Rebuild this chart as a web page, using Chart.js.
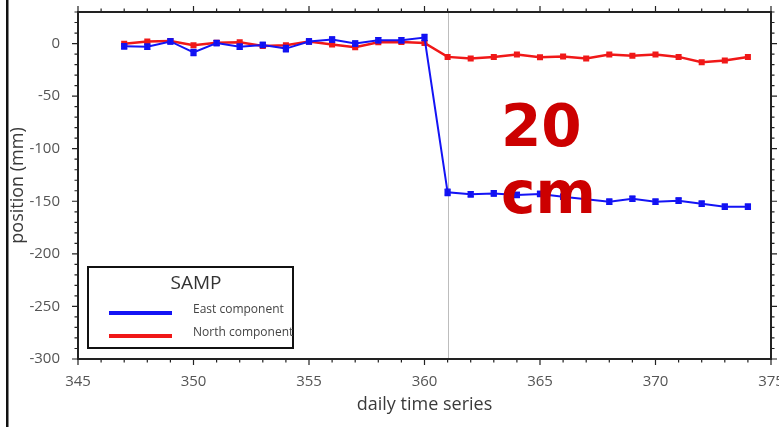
<!DOCTYPE html>
<html>
<head>
<meta charset="utf-8">
<script src="https://cdn.jsdelivr.net/npm/chart.js@4.4.1/dist/chart.umd.min.js"></script>
<style>
html, body { margin: 0; padding: 0; background: #fff; overflow: hidden; }
#wrap { position: relative; width: 800px; height: 427px; }
#note { position: absolute; left: 501px; top: 93px; font: bold 58px "DejaVu Sans"; line-height: 67px; color: #cc0000; }
</style>
</head>
<body>
<div id="wrap">
  <canvas id="myChart" width="800" height="427"></canvas>
  <div id="note">20<br>cm</div>
</div>
<script>
const days = [347, 348, 349, 350, 351, 352, 353, 354, 355, 356, 357, 358, 359, 360,
              361, 362, 363, 364, 365, 366, 367, 368, 369, 370, 371, 372, 373, 374];
const east = [-2.6, -3, 2, -8.5, 0.5, -3, -1.3, -4.8, 2, 3.8, 0, 3.2, 3.1, 5.7,
              -141.5, -143.4, -142.5, -144, -143, -145.7, -148, -150.4, -147.6, -150.4, -149.4, -152.3, -155.2, -155.2];
const north = [-0.3, 2, 2.5, -1.6, 0.8, 1.2, -2.3, -1.6, 2, -1, -3.5, 1.2, 1.5, 0.6,
               -12.7, -14.3, -12.7, -10.5, -13, -12.3, -14.3, -10.5, -11.7, -10.5, -12.7, -17.8, -16.2, -12.7];
const eastErr = [2.5, 2.5, 2.5, 3, 2.5, 2.5, 2.5, 3, 2.5, 2.5, 2.5, 2.5, 2.5, 3,
                 3, 2.5, 2.5, 2.5, 2.5, 2.5, 2.5, 2.5, 2.5, 2.5, 2.5, 2.5, 2.5, 2.5];
const xTicks = [345, 350, 355, 360, 365, 370, 375];
const yTicks = [-300, -250, -200, -150, -100, -50, 0];
const eventDay = 361;
const station = "SAMP";

const ctx = document.getElementById('myChart').getContext("2d");
const FONT = "Open Sans";

// vertical event line, error bars, frame with minor ticks, legend box
const extras = {
  id: 'extras',
  beforeDatasetsDraw(chart) {
    const c = chart.ctx, a = chart.chartArea;
    const px = chart.scales.x.getPixelForValue(eventDay);
    c.save();
    c.strokeStyle = '#bdbdbd';
    c.lineWidth = 1;
    c.beginPath();
    c.moveTo(Math.round(px) + 0.5, a.top);
    c.lineTo(Math.round(px) + 0.5, a.bottom);
    c.stroke();
    c.restore();
  },
  afterDatasetsDraw(chart) {
    const c = chart.ctx, x = chart.scales.x, y = chart.scales.y;
    c.save();
    c.strokeStyle = '#1010f0';
    c.lineWidth = 1.3;
    days.forEach((d, i) => {
      const px = x.getPixelForValue(d);
      const y1 = y.getPixelForValue(east[i] - eastErr[i]);
      const y2 = y.getPixelForValue(east[i] + eastErr[i]);
      c.beginPath();
      c.moveTo(px, y1); c.lineTo(px, y2);
      c.moveTo(px - 3, y1); c.lineTo(px + 3, y1);
      c.moveTo(px - 3, y2); c.lineTo(px + 3, y2);
      c.stroke();
    });
    c.restore();
  },
  afterDraw(chart) {
    const c = chart.ctx, a = chart.chartArea, x = chart.scales.x, y = chart.scales.y;
    c.save();
    c.strokeStyle = '#222';
    c.lineWidth = 1.2;
    c.beginPath();
    for (let v = 345; v <= 375; v++) {
      const px = x.getPixelForValue(v);
      const len = v % 5 === 0 ? 6 : 3.5;
      c.moveTo(px, a.bottom); c.lineTo(px, a.bottom + len);
      c.moveTo(px, a.top); c.lineTo(px, a.top - len);
    }
    for (let v = -300; v <= 30; v += 10) {
      const py = y.getPixelForValue(v);
      const len = v % 50 === 0 ? 6 : 3.5;
      c.moveTo(a.left, py); c.lineTo(a.left - len, py);
      c.moveTo(a.right, py); c.lineTo(a.right + len, py);
    }
    c.stroke();

    c.lineWidth = 2;
    c.strokeRect(a.left, a.top, a.right - a.left, a.bottom - a.top);

    // page border on the left
    c.fillStyle = '#111';
    c.fillRect(6, 0, 2.5, 427);

    // legend
    c.fillStyle = '#fff';
    c.fillRect(88, 267, 205, 81);
    c.strokeStyle = '#111';
    c.lineWidth = 2;
    c.strokeRect(88, 267, 205, 81);
    c.fillStyle = '#333';
    c.textAlign = 'center';
    c.textBaseline = 'middle';
    c.font = '19px "' + FONT + '"';
    c.fillText(station, 196, 284);
    c.font = '12px "' + FONT + '"';
    c.textAlign = 'left';
    chart.data.datasets.forEach((ds, i) => {
      const ly = 313 + i * 23;
      c.strokeStyle = ds.borderColor;
      c.lineWidth = 4;
      c.beginPath();
      c.moveTo(109, ly); c.lineTo(172, ly);
      c.stroke();
      c.fillStyle = '#444';
      c.fillText(ds.label, 193, ly - 3);
    });
    c.restore();
  }
};

const config = {
  type: "line",
  data: {
    datasets: [
      {
        label: "East component",
        data: days.map((d, i) => ({x: d, y: east[i]})),
        borderColor: "#1414f5",
        backgroundColor: "#1414f5",
        borderWidth: 2,
        pointStyle: 'rect',
        pointRadius: 3,
        tension: 0,
      },
      {
        label: "North component",
        data: days.map((d, i) => ({x: d, y: north[i]})),
        borderColor: "#f01818",
        backgroundColor: "#f01818",
        borderWidth: 2.5,
        pointStyle: 'rect',
        pointRadius: 2.5,
        tension: 0,
      },
    ],
  },
  options: {
    responsive: false,
    animation: false,
    layout: { autoPadding: false, padding: { left: 0, top: 12, right: 29, bottom: 0 } },
    plugins: { legend: { display: false }, tooltip: { enabled: false } },
    scales: {
      x: {
        type: 'linear',
        min: 345,
        max: 375,
        grid: { display: false },
        border: { display: false },
        afterFit: (s) => { s.height = 68; s.paddingLeft = 0; s.paddingRight = 0; },
        afterBuildTicks: (s) => { s.ticks = xTicks.map(v => ({value: v})); },
        ticks: { padding: 6, color: '#555', font: { family: FONT, size: 15 } },
        title: {
          display: true,
          text: 'daily time series',
          color: '#3a3a3a',
          font: { family: FONT, size: 18 },
          padding: { top: 0, bottom: 11 },
        },
      },
      y: {
        min: -300,
        max: 30,
        grid: { display: false },
        border: { display: false },
        afterFit: (s) => { s.width = 78; s.paddingTop = 0; s.paddingBottom = 0; },
        afterBuildTicks: (s) => { s.ticks = yTicks.map(v => ({value: v})); },
        ticks: { padding: 10, color: '#555', font: { family: FONT, size: 15 } },
        title: {
          display: true,
          text: 'position (mm)',
          color: '#3a3a3a',
          font: { family: FONT, size: 18 },
          padding: { top: 7, bottom: 0 },
        },
      },
    },
  },
  plugins: [extras],
};

const myChart = new Chart(ctx, config);
</script>
</body>
</html>
